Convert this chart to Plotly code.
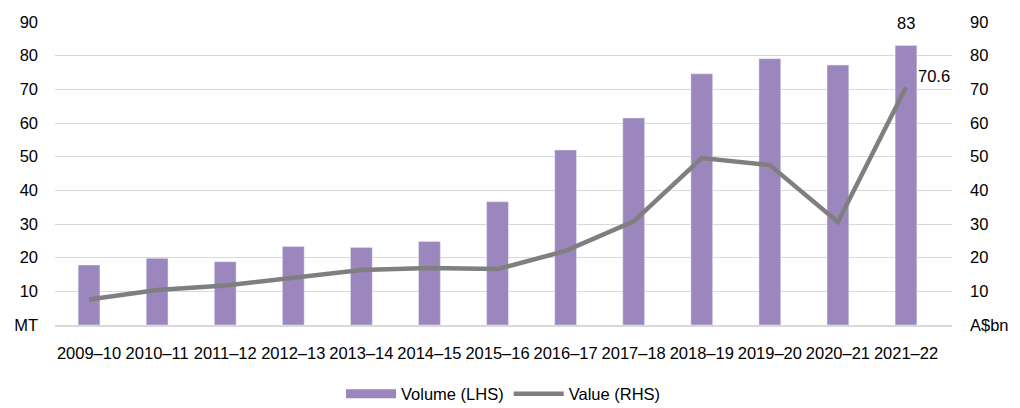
import plotly.graph_objects as go

categories = ["2009–10", "2010–11", "2011–12", "2012–13", "2013–14", "2014–15", "2015–16",
              "2016–17", "2017–18", "2018–19", "2019–20", "2020–21", "2021–22"]
volume = [17.8, 19.8, 18.8, 23.3, 23.0, 24.8, 36.6, 52.0, 61.5, 74.6, 79.1, 77.2, 83]
value = [7.6, 10.4, 11.7, 14.1, 16.3, 16.9, 16.6, 22.0, 30.8, 49.6, 47.5, 30.6, 70.6]
tick_vals = [0, 10, 20, 30, 40, 50, 60, 70, 80, 90]
left_ticks = ["MT", "10", "20", "30", "40", "50", "60", "70", "80", "90"]
right_ticks = ["A$bn", "10", "20", "30", "40", "50", "60", "70", "80", "90"]

FONT = "Liberation Sans, Arial, sans-serif"
FS = 16.5
PURPLE = "#9B86BD"
GREY = "#7F7F7F"

fig = go.Figure()
fig.add_trace(go.Bar(x=categories, y=volume, name="Volume (LHS)", marker_color=PURPLE,
                     width=0.32, yaxis="y", showlegend=False, legendgroup="vol"))
fig.add_trace(go.Scatter(x=categories, y=value, name="Value (RHS)", mode="lines",
                         line=dict(color=GREY, width=4.5), yaxis="y2", showlegend=False,
                         legendgroup="val"))
# legend entries (wide swatches like the reference)
fig.add_trace(go.Scatter(x=[None], y=[None], name="Volume (LHS)", mode="lines",
                         line=dict(color=PURPLE, width=9), legendgroup="vol"))
fig.add_trace(go.Scatter(x=[None], y=[None], name="Value (RHS)", mode="lines",
                         line=dict(color=GREY, width=4.5), legendgroup="val"))

fig.add_annotation(x=categories[-1], y=volume[-1], text=str(volume[-1]), showarrow=False,
                   yanchor="middle", yshift=23, xref="x", yref="y",
                   font=dict(size=FS, color="#000000", family=FONT))
fig.add_annotation(x=categories[-1], y=value[-1], text=str(value[-1]), showarrow=False,
                   xanchor="left", yanchor="middle", xshift=10, yshift=11, xref="x", yref="y2",
                   font=dict(size=FS, color="#000000", family=FONT))

fig.update_layout(
    width=1012, height=400,
    margin=dict(l=47, r=68, t=14, b=83),
    plot_bgcolor="white", paper_bgcolor="white",
    font=dict(family=FONT, size=FS, color="#000000"),
    xaxis=dict(showgrid=False, showline=True, linecolor="#D9D9D9", linewidth=1.5,
               ticks="", tickfont=dict(size=FS), ticklabelstandoff=12, automargin=False),
    yaxis=dict(range=[0, 90], tickvals=tick_vals, ticktext=left_ticks, showgrid=True,
               gridcolor="#D9D9D9", gridwidth=1.2, zeroline=False, ticks="",
               ticklabelstandoff=16, automargin=False),
    yaxis2=dict(range=[0, 90], tickvals=tick_vals, ticktext=right_ticks, overlaying="y",
                side="right", showgrid=False, zeroline=False, ticks="",
                ticklabelstandoff=17, automargin=False),
    legend=dict(orientation="h", x=0.5, xanchor="center", y=0.035, yref="container",
                yanchor="middle", font=dict(size=FS), itemwidth=50, tracegroupgap=0),
    showlegend=True,
)

fig.write_html("out.html")
